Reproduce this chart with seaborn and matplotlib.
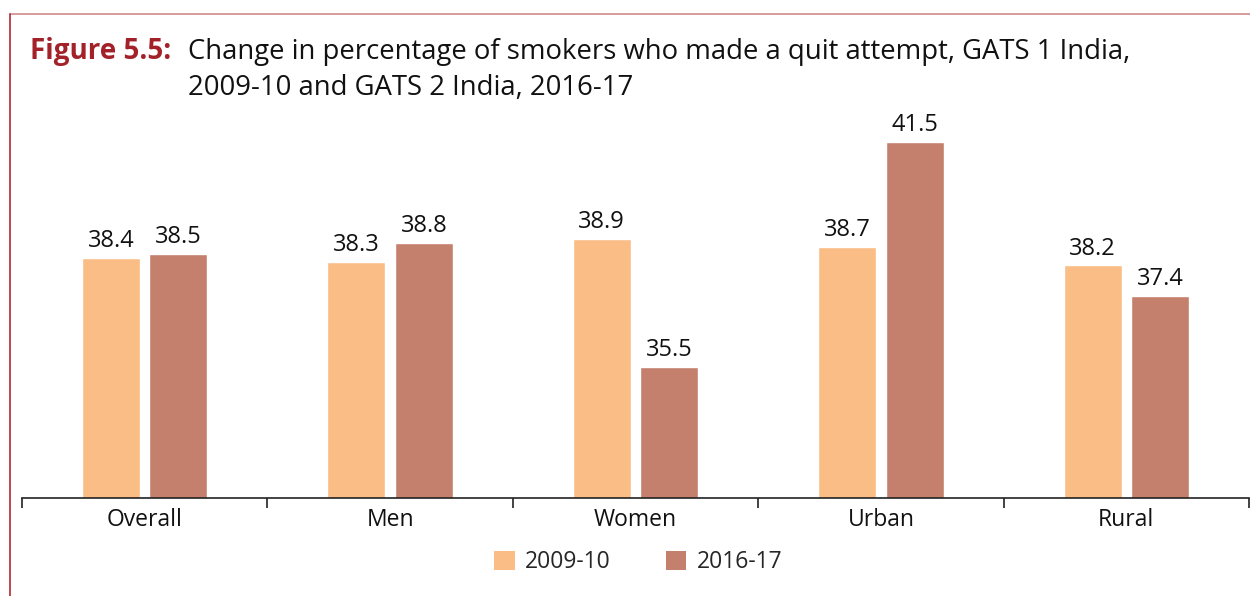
import matplotlib
matplotlib.use("Agg")
import matplotlib.pyplot as plt
import numpy as np
import pandas as pd
import seaborn as sns
from matplotlib.lines import Line2D
from matplotlib.patches import Patch

# Share of smokers who made a quit attempt (%)
groups = ["Overall", "Men", "Women", "Urban", "Rural"]
gats1 = [38.4, 38.3, 38.9, 38.7, 38.2]
gats2 = [38.5, 38.8, 35.5, 41.5, 37.4]
periods = ["2009-10", "2016-17"]
colors = ["#FABD86", "#C5806D"]

df = pd.DataFrame({
    "group": groups * 2,
    "period": [periods[0]] * len(groups) + [periods[1]] * len(groups),
    "value": gats1 + gats2,
})

sns.set_theme(style="white")
plt.rcParams["font.family"] = ["Open Sans", "DejaVu Sans"]

W, H = 1250, 596
fig = plt.figure(figsize=(W / 100, H / 100), dpi=100)
fig.patch.set_facecolor("white")

ax = fig.add_axes([22 / W, 98 / H, 1227 / W, 378 / H])
sns.barplot(data=df, x="group", y="value", hue="period", order=groups,
            hue_order=periods, palette=colors, saturation=1,
            width=0.55, gap=0.14, legend=False, ax=ax)

for cont in ax.containers:
    ax.bar_label(cont, fmt="%.1f", padding=3.5, fontsize=17, color="#111111")

ax.set_ylim(32, 32 + 378 / 37.5)
ax.set_xlim(-0.5, len(groups) - 0.5)
ax.set_xlabel("")
ax.set_ylabel("")
ax.set_yticks([])
for s in ["top", "right", "left"]:
    ax.spines[s].set_visible(False)
ax.spines["bottom"].set_color("#222222")
ax.spines["bottom"].set_linewidth(1.2)

ax.set_xticks(range(len(groups)))
ax.set_xticklabels(groups, fontsize=16.5, color="#111111")
ax.set_xticks(np.arange(-0.5, len(groups), 1.0), minor=True)
ax.tick_params(axis="x", which="major", length=0, pad=7)
ax.tick_params(axis="x", which="minor", length=7, width=1.2,
               color="#222222", direction="out", bottom=True)

handles = [Patch(facecolor=c, edgecolor="none", label=p)
           for c, p in zip(colors, periods)]
fig.legend(handles=handles, loc="center", bbox_to_anchor=(638 / W, 1 - 562 / H),
           ncol=2, frameon=False, fontsize=16.5, handlelength=0.9,
           handleheight=0.9, handletextpad=0.45, columnspacing=2.4)

# Title block
fig.text(30 / W, 1 - 59 / H, "Figure 5.5:", fontsize=20, fontweight="bold",
         color="#A3222A", va="baseline", ha="left")
fig.text(188 / W, 1 - 59 / H,
         "Change in percentage of smokers who made a quit attempt, GATS 1 India,",
         fontsize=19.8, color="#111111", va="baseline", ha="left")
fig.text(188 / W, 1 - 95 / H, "2009-10 and GATS 2 India, 2016-17",
         fontsize=19.8, color="#111111", va="baseline", ha="left")

# Frame lines along the top and left edges
fig.add_artist(Line2D([10 / W, 1], [1 - 14 / H, 1 - 14 / H],
                      color="#D08A8C", linewidth=1.2))
fig.add_artist(Line2D([10 / W, 10 / W], [0, 1 - 14 / H],
                      color="#B5262F", linewidth=1.2))

fig.savefig("out.png", dpi=100, facecolor="white")
